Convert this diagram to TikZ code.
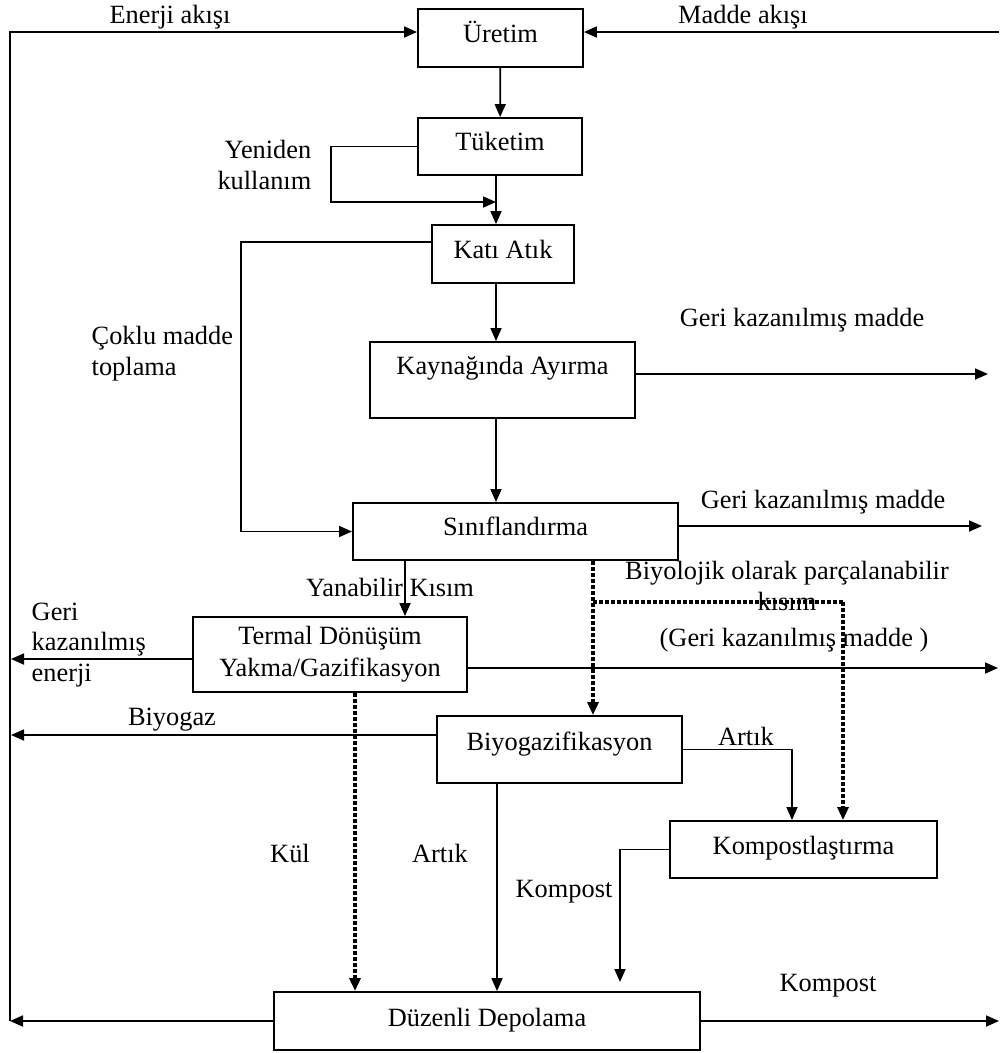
\documentclass[tikz,border=0pt]{standalone}
\usepackage{fontspec}
\setmainfont{Liberation Serif}
\usetikzlibrary{shapes,arrows.meta}

\begin{document}
\begin{tikzpicture}[x=0.2mm,y=-0.2mm,font=\fontsize{15}{17.5}\selectfont,
		line width=1pt,>={Triangle[length=2.6mm,width=2.2mm]},
		box/.style={draw,line width=1.1pt,inner sep=0pt,align=center},
		oneline/.style={text height=10pt,text depth=#1},
		dotline/.style={line width=1.8pt,dash pattern=on 0.8mm off 0.4mm}]
		\useasboundingbox (0,0) rectangle (1000,1053);
		\node[box,oneline=5pt,minimum width=33mm,minimum height=11.6mm] (uretim) at (500.5,38) {Üretim};
		\node[box,oneline=5pt,minimum width=32.8mm,minimum height=11.4mm] (tuketim) at (500,146.5) {Tüketim};
		\node[box,oneline=5pt,minimum width=28.4mm,minimum height=11.6mm] (kati) at (503,254) {Katı Atık};
		\node[box,oneline=16pt,minimum width=53mm,minimum height=15.2mm] (kaynak) at (502.5,380) {Kaynağında Ayırma};
		\node[box,oneline=5pt,minimum width=65mm,minimum height=11.4mm] (sinif) at (515.5,531.5) {Sınıflandırma};
		\node[box,minimum width=54.8mm,minimum height=15mm] (termal) at (330,654.5) {Termal Dönüşüm\\[0.5pt]Yakma/Gazifikasyon};
		\node[box,oneline=8.5pt,minimum width=49mm,minimum height=13.4mm] (biyogaz) at (559.5,749.5) {Biyogazifikasyon};
		\node[box,oneline=4pt,minimum width=53.4mm,minimum height=11.4mm] (kompost) at (803.5,849.5) {Kompostlaştırma};
		\node[box,oneline=4pt,minimum width=85.2mm,minimum height=11.6mm] (depo) at (487,1021) {Düzenli Depolama};

		\node (enerjilbl) at (170,17) {Enerji akışı};
		\node (maddelbl) at (743,17) {Madde akışı};
		\node[align=right,anchor=east] (yenidenlbl) at (318,165) {Yeniden\\kullanım};
		\node[align=left,anchor=west] (coklulbl) at (85,354) {Çoklu madde\\toplama};
		\node (geri1lbl) at (802,320) {Geri kazanılmış madde};
		\node (geri2lbl) at (823,502) {Geri kazanılmış madde};
		\node (yanabilirlbl) at (390,587) {Yanabilir Kısım};
		\node[align=center] (biyolbl) at (787,586) {Biyolojik olarak parçalanabilir\\kısım};
		\node[align=left,anchor=west] (enerji2lbl) at (25,645) {Geri\\kazanılmış\\enerji};
		\node (geri3lbl) at (794,640) {(Geri kazanılmış madde )};
		\node (biyogazlbl) at (172,720) {Biyogaz};
		\node (artik1lbl) at (746,736) {Artık};
		\node (kullbl) at (290,853) {Kül};
		\node (artik2lbl) at (440,853) {Artık};
		\node (kompost1lbl) at (564,892) {Kompost};
		\node (kompost2lbl) at (828,986) {Kompost};

		\coordinate (lft) at (10,0);
		\coordinate (rgt) at (999,0);
		\coordinate (top) at (10,32);
		\coordinate (spine) at (496,0);
		\coordinate (reuse) at (331,202);
		\coordinate (coll) at (241,242);
		\coordinate (burn) at (405,0);
		\coordinate (bio) at (593,602);
		\coordinate (comp) at (843,602);
		\coordinate (ash) at (355,0);
		\coordinate (res) at (792,0);
		\coordinate (down) at (497,0);
		\coordinate (cmp) at (620,982);
		\coordinate (out1) at (988,374);
		\coordinate (out2) at (982,526);
		\coordinate (enout) at (11,659);
		\coordinate (out3) at (998,668);
		\coordinate (gasout) at (11,735);

		\draw[->] (depo.west -| lft) |- (top -| uretim.west);
		\draw[->] (top -| rgt) -- (top -| uretim.east);
		\draw[->] (uretim) -- (tuketim);
		\draw[->] (tuketim.south -| spine) -- (kati.north -| spine);
		\draw[->] (tuketim.west) -| (reuse) -- (reuse -| spine);
		\draw[->] (kati.west |- coll) -- (coll) |- (sinif.west);
		\draw[->] (kati.south -| spine) -- (kaynak.north -| spine);
		\draw[->] (kaynak.east |- out1) -- (out1);
		\draw[->] (kaynak.south -| spine) -- (sinif.north -| spine);
		\draw[->] (sinif.east |- out2) -- (out2);
		\draw[->] (sinif.south -| burn) -- (termal.north -| burn);
		\draw[->] (termal.west |- enout) -- (enout);
		\draw[->] (termal.east |- out3) -- (out3);
		\draw[dotline,->] (termal.south -| ash) -- (depo.north -| ash);
		\draw[dotline,->] (sinif.south -| bio) -- (biyogaz.north -| bio);
		\draw[dotline,line width=2.6pt] (bio) -- (comp);
		\draw[dotline,->] (comp) -- (kompost.north -| comp);
		\draw[->] (biyogaz.west |- gasout) -- (gasout);
		\draw[->] (biyogaz.east) -| (kompost.north -| res);
		\draw[->] (biyogaz.south -| down) -- (depo.north -| down);
		\draw[->] (kompost.west) -| (cmp);
		\draw[->] (depo.west) -- (depo.west -| lft);
		\draw[->] (depo.east) -- (depo.east -| rgt);
	\end{tikzpicture}
\end{document}
